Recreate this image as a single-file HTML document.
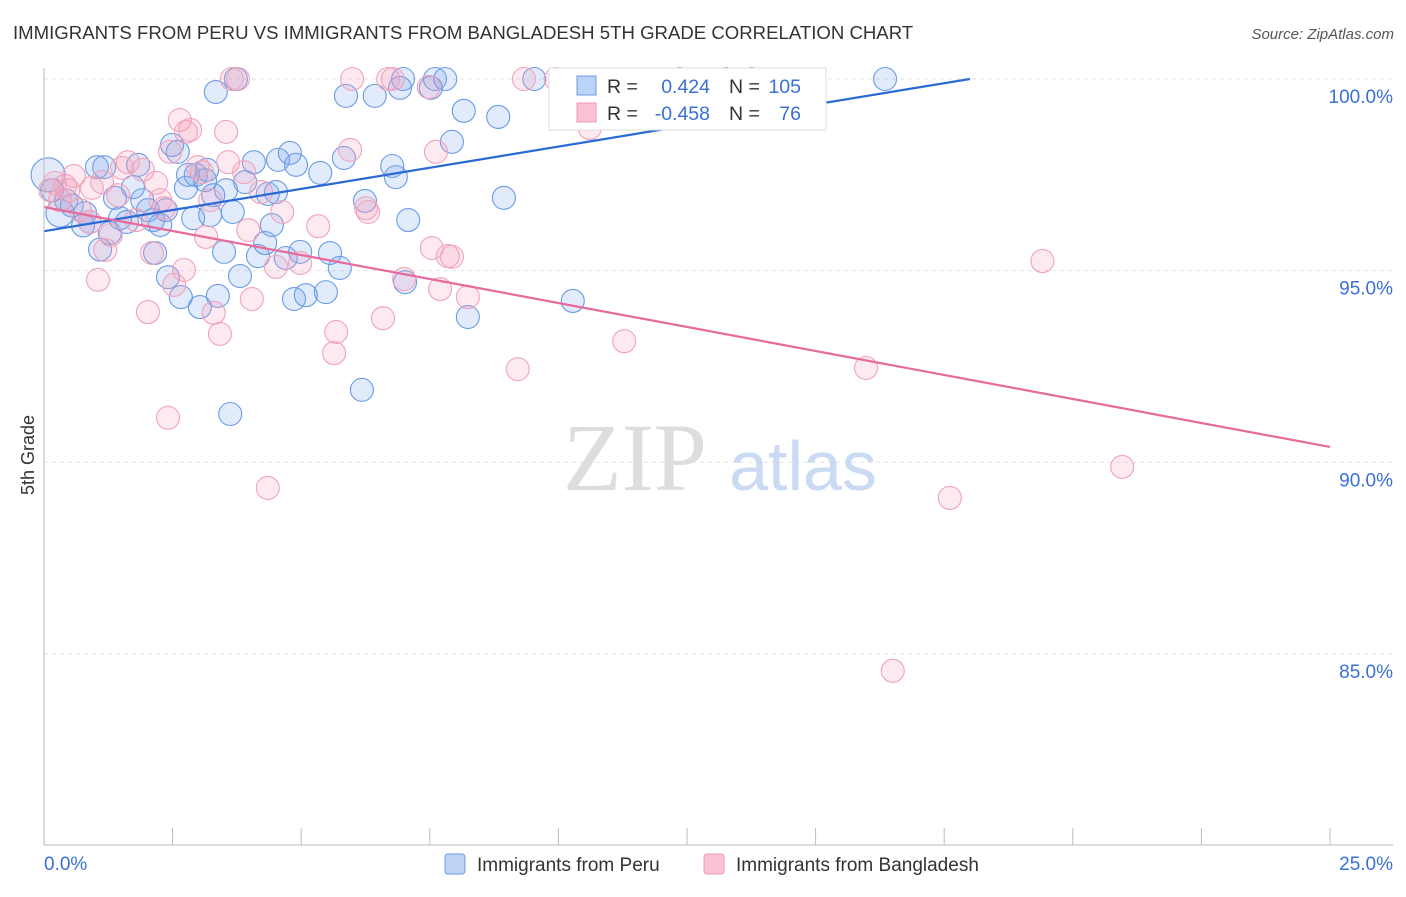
<!DOCTYPE html>
<html><head><meta charset="utf-8"><style>
body{margin:0;background:#fff;font-family:"Liberation Sans",sans-serif;}
</style></head><body>
<svg width="1406" height="892" xmlns="http://www.w3.org/2000/svg" style="font-family:'Liberation Sans',sans-serif">
<text x="13" y="39" font-size="18.6" fill="#333">IMMIGRANTS FROM PERU VS IMMIGRANTS FROM BANGLADESH 5TH GRADE CORRELATION CHART</text>
<text x="1394" y="39" font-size="15" fill="#555" font-style="italic" text-anchor="end">Source: ZipAtlas.com</text>
<g id="grid"></g>
<g id="wm">
<text x="635" y="490" font-size="96" fill="#ddd" font-family="Liberation Serif,serif" text-anchor="middle">ZIP</text>
<text x="803" y="490" font-size="70" fill="#c9daf2" text-anchor="middle">atlas</text>
</g>
<g id="pts"></g>
<g id="trend"></g>
<g id="axes"></g>
<text x="34" y="455" font-size="18" fill="#333" text-anchor="middle" transform="rotate(-90 34 455)">5th Grade</text>
<g>
<rect x="549" y="68" width="277" height="62" fill="#fff" stroke="#ddd"/>
<rect x="577" y="76" width="19" height="19" fill="#bcd3f5" stroke="#6a9be3"/>
<rect x="577" y="103" width="19" height="19" fill="#f9c3d3" stroke="#ef9ab5"/>
<text x="607" y="93" font-size="19.5" fill="#333">R =</text>
<text x="710" y="93" font-size="19.5" fill="#3a6fd8" text-anchor="end">0.424</text>
<text x="729" y="93" font-size="19.5" fill="#333">N =</text>
<text x="801" y="93" font-size="19.5" fill="#3a6fd8" text-anchor="end">105</text>
<text x="607" y="120" font-size="19.5" fill="#333">R =</text>
<text x="710" y="120" font-size="19.5" fill="#3a6fd8" text-anchor="end">-0.458</text>
<text x="729" y="120" font-size="19.5" fill="#333">N =</text>
<text x="801" y="120" font-size="19.5" fill="#3a6fd8" text-anchor="end">76</text>
</g>
<g>
<rect x="445" y="854" width="20" height="20" rx="3" fill="#bcd3f5" stroke="#6a9be3"/>
<text x="477" y="871" font-size="19" fill="#333">Immigrants from Peru</text>
<rect x="704" y="854" width="20" height="20" rx="3" fill="#f9c3d3" stroke="#ef9ab5"/>
<text x="736" y="871" font-size="19" fill="#333">Immigrants from Bangladesh</text>
</g>
</svg>
<script>
const blueX=[0.08,0.31,0.16,0.43,0.54,0.8,0.76,0.89,1.03,1.17,1.09,1.28,1.38,1.48,1.61,1.73,1.83,1.91,2.02,2.12,2.26,2.37,2.16,2.41,2.49,2.6,2.66,2.76,2.9,2.95,2.8,3.03,3.13,3.17,3.29,3.23,3.34,3.38,3.5,3.54,3.62,3.67,3.73,3.81,3.91,4.08,4.16,4.3,4.35,4.43,4.51,4.55,4.7,4.78,4.86,4.9,4.98,5.09,5.37,5.48,5.56,5.75,5.83,5.87,6.18,6.24,6.43,6.77,6.84,6.92,6.98,7.02,7.08,7.52,7.6,7.8,7.93,8.16,8.24,8.83,8.94,9.53,10.28,12.36,13.26,13.76,16.35];
const blueY=[97.5,96.5,97.1,96.83,96.7,96.5,96.18,96.27,97.7,97.7,95.55,95.98,96.9,96.37,96.27,97.18,97.76,96.84,96.58,96.32,96.19,96.58,95.46,94.83,98.28,98.1,94.31,97.16,96.37,97.5,97.5,94.05,97.36,97.63,96.97,96.45,99.66,94.34,95.49,97.1,91.26,96.53,100,94.86,97.31,97.83,95.38,95.72,97,96.19,97.05,97.89,95.33,98.07,94.26,97.76,95.49,94.36,97.55,94.44,95.46,95.07,97.94,99.56,91.89,96.82,99.56,97.73,97.44,99.77,100,94.7,96.32,99.77,100,100,98.36,99.17,93.79,99.01,96.9,100,94.21,100,100,100,100];
const pinkX=[0.12,0.21,0.31,0.41,0.47,0.58,0.7,0.89,0.93,1.05,1.13,1.19,1.3,1.44,1.52,1.63,1.79,1.92,2.02,2.1,2.18,2.26,2.33,2.41,2.45,2.53,2.64,2.72,2.76,2.84,2.99,3.07,3.15,3.23,3.3,3.42,3.54,3.58,3.65,3.77,3.89,3.97,4.04,4.22,4.35,4.51,4.63,4.98,5.33,5.64,5.68,5.95,5.99,6.26,6.3,6.59,6.69,6.78,7,7.48,7.62,7.54,7.7,7.85,7.93,8.24,9.21,9.33,9.95,10.61,11.28,15.98,17.61,19.41,20.96,16.5];
const pinkY=[97.1,97.29,96.84,97.21,97.1,97.47,96.58,96.27,97.16,94.76,97.31,95.54,95.93,96.97,97.68,97.83,96.32,97.63,93.92,95.46,97.29,96.84,96.63,91.16,98.1,94.63,98.93,95.02,98.62,98.67,97.7,97.57,95.88,96.84,93.9,93.35,98.62,97.83,100,100,97.57,96.06,94.26,97.05,89.33,95.1,96.53,95.2,96.16,92.85,93.4,98.15,100,96.63,96.53,93.76,100,100,94.78,99.79,98.1,95.59,94.52,95.38,95.36,94.31,92.43,100,100,98.72,93.16,92.46,89.07,95.25,89.88,84.56];
const blueTrendX=[0,18]; const blueTrendY=[96.03,100];
const pinkTrendX=[0,25]; const pinkTrendY=[96.66,90.4];
const yTicks=[100,95,90,85]; const yTickLabels=["100.0%","95.0%","90.0%","85.0%"];
const xTickVals=[0,2.5,5,7.5,10,12.5,15,17.5,20,22.5,25];
const xLabels=["0.0%","25.0%"];
const NS="http://www.w3.org/2000/svg";
const sx=v=>44+v*51.44, sy=v=>79+(100-v)*38.33;
function mk(t,a,p){const e=document.createElementNS(NS,t);for(const k in a)e.setAttribute(k,a[k]);p.appendChild(e);return e;}
const grid=document.getElementById('grid'),axes=document.getElementById('axes'),pts=document.getElementById('pts'),tr=document.getElementById('trend');
yTicks.forEach((v,i)=>{const l=mk('line',{x1:44,x2:1393,y1:sy(v),y2:sy(v),stroke:'#e2e2e2','stroke-dasharray':'4,4'},grid);


const t=mk('text',{x:1393,y:sy(v)+24,'font-size':19,fill:'#3a6fd8','text-anchor':'end'},axes);t.textContent=yTickLabels[i];

});
mk('line',{x1:44,x2:44,y1:68,y2:845,stroke:'#bbb'},axes);
mk('line',{x1:44,x2:1393,y1:845,y2:845,stroke:'#bbb'},axes);
xTickVals.forEach(v=>{const l=mk('line',{x1:sx(v),x2:sx(v),y1:828,y2:845,stroke:'#bbb'},axes);

});
const xl0=mk('text',{x:44,y:870,'font-size':19,fill:'#3a6fd8'},axes);xl0.textContent=xLabels[0];


const xl1=mk('text',{x:1393,y:870,'font-size':19,fill:'#3a6fd8','text-anchor':'end'},axes);xl1.textContent=xLabels[1];


function dots(X,Y,fill,stroke,name){X.forEach((x,i)=>{const r=(i<2&&name==='peru')?(i==0?17:14):11.5;
const c=mk('circle',{cx:sx(x),cy:sy(Y[i]),r:r,fill:fill,stroke:stroke,'stroke-width':1.1},pts);

});}
dots(blueX,blueY,'rgba(120,165,235,0.22)','#6a9be3','peru');
dots(pinkX,pinkY,'rgba(245,160,185,0.22)','#f0a3bb','bangladesh');
const bl=mk('line',{x1:sx(blueTrendX[0]),y1:sy(blueTrendY[0]),x2:sx(blueTrendX[1]),y2:sy(blueTrendY[1]),stroke:'#2a6ad6','stroke-width':2.2},tr);


const pl=mk('line',{x1:sx(pinkTrendX[0]),y1:sy(pinkTrendY[0]),x2:sx(pinkTrendX[1]),y2:sy(pinkTrendY[1]),stroke:'#e8699a','stroke-width':2.2},tr);


</script>
</body></html>
